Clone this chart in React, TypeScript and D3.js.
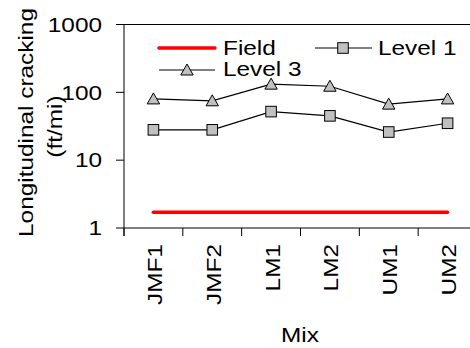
import React from "react";
import * as d3 from "d3";

const mixes = ["JMF1", "JMF2", "LM1", "LM2", "UM1", "UM2"];
const field = [1.7, 1.7, 1.7, 1.7, 1.7, 1.7];
const level1 = [28, 28, 52, 45, 26, 35];
const level3 = [80, 75, 132, 123, 67, 80];
const yTicks = [1, 10, 100, 1000];

const FS = 19.5;
const SX = 1.25;

function T({ x, y, rot = 0, anchor = "start", children }: any) {
  return (
    <text
      transform={`translate(${x},${y}) rotate(${rot}) scale(${SX},1)`}
      textAnchor={anchor}
      fontSize={FS}
      fill="#000"
    >
      {children}
    </text>
  );
}

const triPath = "M0,-6L6.2,5L-6.2,5Z";

export default function App() {
  const W = 470, H = 348;
  const left = 124, right = 477, top = 24.5, bottom = 228;
  const x = d3.scaleBand().domain(mixes).range([left, right]);
  const y = d3.scaleLog().domain([1, 1000]).range([bottom, top]);
  const cx = (m: string) => (x(m) as number) + x.bandwidth() / 2;
  const line = d3.line<number>().x((_, i) => cx(mixes[i])).y(d => y(d));
  const font = "'Liberation Sans', Arial, sans-serif";
  const boundaries = mixes.map(m => x(m) as number);
  return (
    <svg width={W} height={H} style={{ position: "absolute", left: 0, top: 0 }} fontFamily={font}>
      <rect width={W} height={H} fill="#fff" />
      <line x1={left} x2={W} y1={top} y2={top} stroke="#000" strokeWidth={1} />
      <line x1={left} x2={left} y1={top} y2={bottom + 8} stroke="#000" strokeWidth={1} />
      <line x1={left} x2={W} y1={bottom} y2={bottom} stroke="#000" strokeWidth={1} />
      {yTicks.map(t => (
        <g key={t}>
          <line x1={left - 8} x2={left} y1={y(t)} y2={y(t)} stroke="#000" />
          <T x={102} y={y(t) + 7.2} anchor="end">{t}</T>
        </g>
      ))}
      {boundaries.map((b, i) => (
        <line key={i} x1={b} x2={b} y1={bottom} y2={bottom + 8} stroke="#000" />
      ))}
      {mixes.map(m => (
        <T key={m} x={cx(m) + 8.5} y={244} rot={-90} anchor="end">{m}</T>
      ))}
      <T x={300} y={341.5} anchor="middle">Mix</T>
      <T x={33} y={122.5} rot={-90} anchor="middle">Longitudinal cracking</T>
      <T x={62} y={126.5} rot={-90} anchor="middle">(ft/mi)</T>
      <path d={line(field) as string} fill="none" stroke="#ff0000" strokeWidth={3.5} strokeLinecap="round" />
      <path d={line(level1) as string} fill="none" stroke="#000" strokeWidth={1.2} />
      <path d={line(level3) as string} fill="none" stroke="#000" strokeWidth={1.2} />
      {level1.map((v, i) => (
        <rect key={i} x={cx(mixes[i]) - 5.3} y={y(v) - 5.3} width={10.6} height={10.6} fill="#c0c0c0" stroke="#000" strokeWidth={1} />
      ))}
      {level3.map((v, i) => (
        <path key={i} d={triPath} transform={`translate(${cx(mixes[i])},${y(v)})`} fill="#c0c0c0" stroke="#000" strokeWidth={1} />
      ))}
      {/* legend */}
      <line x1={159} x2={215} y1={48} y2={48} stroke="#ff0000" strokeWidth={3.5} strokeLinecap="round" />
      <T x={223} y={55}>Field</T>
      <line x1={315} x2={372} y1={48} y2={48} stroke="#000" strokeWidth={1.2} />
      <rect x={337.7} y={42.7} width={10.6} height={10.6} fill="#c0c0c0" stroke="#000" />
      <T x={378} y={55}>Level 1</T>
      <line x1={159} x2={215} y1={70} y2={70} stroke="#000" strokeWidth={1.2} />
      <path d={triPath} transform="translate(187,70)" fill="#c0c0c0" stroke="#000" />
      <T x={223} y={76}>Level 3</T>
    </svg>
  );
}
